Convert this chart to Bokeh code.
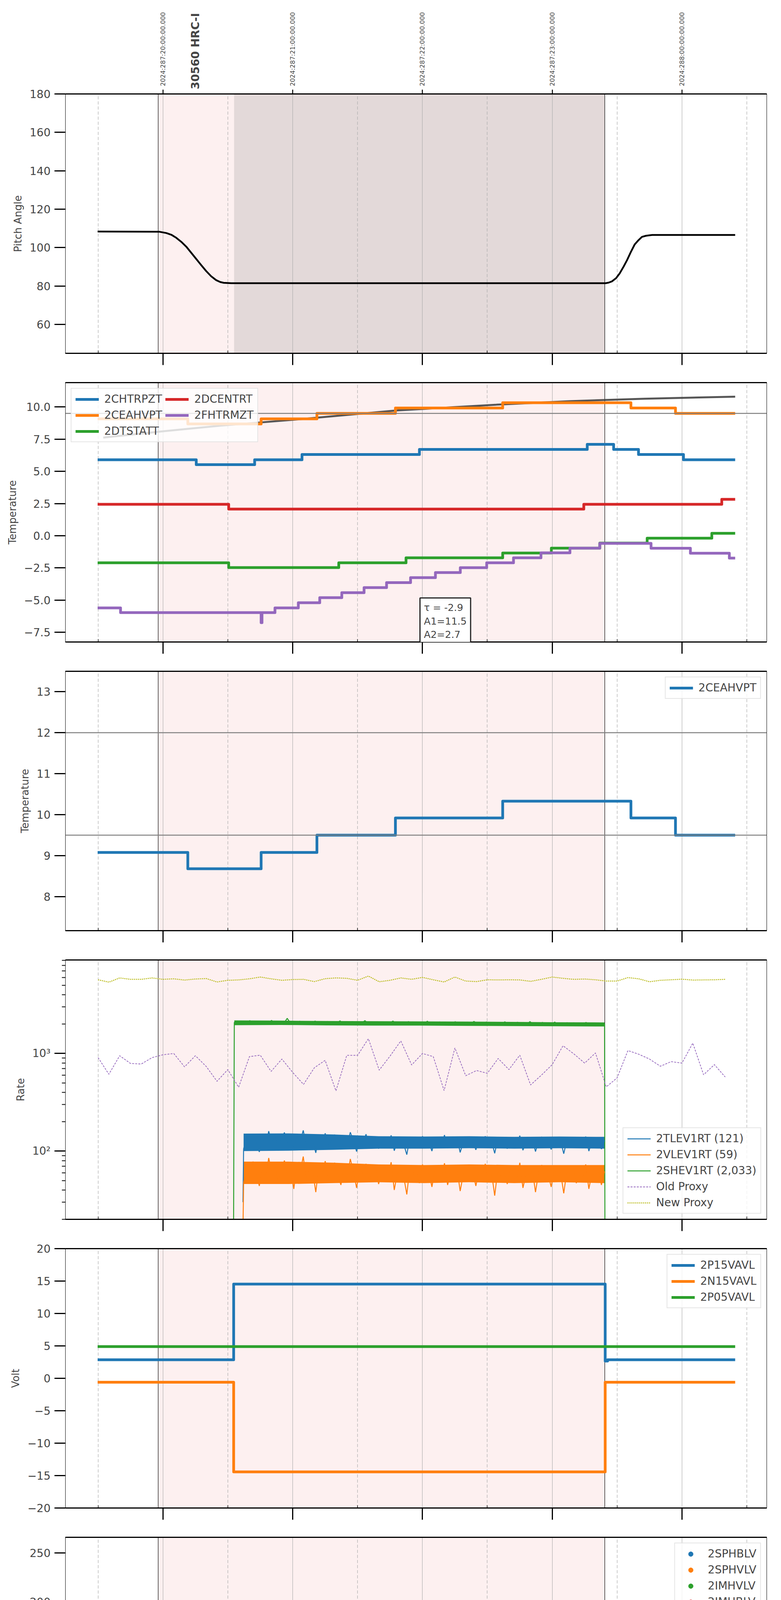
import math
import numpy as np
from bokeh.plotting import figure
from bokeh.layouts import column
from bokeh.models import (Range1d, LinearAxis, FixedTicker, Grid, BoxAnnotation, AllLabels,
                          Span, Legend, LegendItem, Label, CustomLabelingPolicy)
from bokeh.embed import file_html
from bokeh.resources import INLINE

FONT = "DejaVu Sans"
C0, C1, C2, C3, C4, C8 = "#1f77b4", "#ff7f0e", "#2ca02c", "#d62728", "#9467bd", "#bcbd22"

# ---------------- time axis (local time, "HH:MM.m")
hour_ticks = [16, 17, 18, 19, 20]
hour_labels = ["16h", "17h", "18h", "19h", "20h"]
half_ticks = [15.5, 16.5, 17.5, 18.5, 19.5, 20.5]
utc_labels = ["2024:287:20:00:00.000", "2024:287:21:00:00.000", "2024:287:22:00:00.000",
              "2024:287:23:00:00.000", "2024:288:00:00:00.000"]
date_label = "2024-10-13 (287)"
obs_id = "30560 HRC-I"
obs_id_time = "16:15"
view_start, view_end = "15:14.9", "20:39.2"
obs_start, obs_end = "15:57.8", "19:24.3"
dwell_start = "16:32.9"

# ---------------- panel 1: pitch
pitch_t = ["15:29.8", "15:58.2", "16:01.6", "16:03.9", "16:06.2", "16:08.5", "16:10.8", "16:13.1",
           "16:15.4", "16:17.7", "16:20.0", "16:22.3", "16:24.6", "16:26.5", "16:28.1", "16:31.6",
           "19:24.7", "19:26.1", "19:27.7", "19:29.6", "19:31.2", "19:33.0", "19:34.6", "19:36.3",
           "19:38.1", "19:39.9", "19:41.5", "19:43.4", "19:46.2", "20:24.6"]
pitch_v = [108.4, 108.3, 107.6, 106.7, 105.1, 103.0, 100.5, 97.3,
           94.1, 90.9, 87.8, 85.1, 83.1, 82.1, 81.7, 81.5,
           81.5, 81.8, 82.5, 84.2, 86.6, 90.1, 93.5, 97.6,
           101.6, 103.9, 105.6, 106.2, 106.6, 106.6]

# ---------------- panel 2: temperatures (step changes)
chtrpzt_t = ["15:29.8", "16:15.4", "16:42.4", "17:04.3", "17:58.6", "19:16.2", "19:28.4", "19:39.9", "20:00.7", "20:24.6"]
chtrpzt_v = [5.90, 5.52, 5.90, 6.31, 6.70, 7.10, 6.70, 6.31, 5.90, 5.90]
ceahvpt_t = ["15:29.8", "16:11.5", "16:45.4", "17:11.2", "17:47.5", "18:37.1", "19:36.4", "19:57.0", "20:24.6"]
ceahvpt_v = [9.08, 8.68, 9.08, 9.50, 9.92, 10.33, 9.92, 9.50, 9.50]
dtstatt_t = ["15:29.8", "16:30.4", "17:21.3", "17:52.4", "18:37.1", "18:59.6", "19:22.0", "19:43.9", "20:13.8", "20:24.6"]
dtstatt_v = [-2.10, -2.47, -2.10, -1.71, -1.34, -0.96, -0.57, -0.19, 0.19, 0.19]
dcentrt_t = ["15:29.8", "16:30.4", "19:14.6", "20:18.4", "20:24.6"]
dcentrt_v = [2.44, 2.07, 2.44, 2.83, 2.83]
fhtrmzt_t = ["15:29.8", "15:40.4", "16:45.4", "16:45.8", "16:51.8", "17:02.6", "17:12.5", "17:22.7",
             "17:33.0", "17:43.4", "17:54.5", "18:06.0", "18:17.5", "18:29.7", "18:42.1", "18:54.8",
             "19:08.2", "19:22.0", "19:45.7", "20:03.9", "20:21.9", "20:24.6"]
fhtrmzt_v = [-5.60, -5.97, -6.75, -5.97, -5.60, -5.20, -4.81, -4.42,
             -4.03, -3.64, -3.25, -2.86, -2.48, -2.10, -1.71, -1.33,
             -0.96, -0.59, -0.97, -1.36, -1.74, -1.74]
model_t = ["15:32.4", "15:59.3", "16:26.9", "17:01.5", "17:47.5", "18:33.6", "19:08.2", "19:42.7", "20:24.6"]
model_v = [7.62, 8.10, 8.55, 9.02, 9.72, 10.17, 10.45, 10.64, 10.80]
ceahvpt_limits = [9.5, 12.0]
fit_text = "τ = -2.9\nA1=11.5\nA2=2.7"

# ---------------- panel 4: rates
rate_start, rate_end = "16:33.0", "19:24.2"
lev_start = "16:37.3"
shev_v = [2080, 2150, 2010, 2120, 2060, 2170, 1990, 2100, 2140, 2030, 2110, 2070, 2180, 2020, 2090,
          2130, 2050, 2290, 2060, 2110, 2000, 2140, 2080, 2030, 2120, 2060, 2150, 1980, 2090, 2050,
          2130, 2010, 2100, 2070, 2160, 2020, 2080, 2040, 2120, 1990, 2090, 2060, 2170, 2030, 2080,
          2050, 2110, 1980, 2070, 2100, 2040, 2150, 2000, 2090, 2060, 2030, 2120, 1970, 2080, 2050,
          2100, 2010, 2140, 2040, 2070, 1990, 2110, 2030, 2080, 2060, 2000, 2120, 1960, 2070, 2040,
          2090, 2010, 2130, 2030, 2060, 1970, 2100, 2020, 2050, 1990, 2080, 2040, 2110, 1950, 2060,
          2000, 2090, 2030, 2070, 1980, 2120, 2010, 2040, 1960, 2080, 2020, 2050, 1990, 2100, 1960,
          2040, 2010, 2070, 1970, 2060, 1990, 2030, 1950, 2080, 2000, 2040, 1970, 2050, 1990, 2020]
tlev_v = [105, 140, 118, 150, 126, 98, 135, 112, 160, 121, 145, 108, 132, 155, 117, 139, 102, 148,
          125, 163, 113, 137, 128, 96, 143, 119, 152, 110, 131, 147, 122, 104, 138, 116, 156, 127,
          99, 134, 120, 149, 111, 129, 141, 106, 124, 136, 114, 145, 101, 126, 133, 118, 92, 138,
          121, 130, 109, 142, 117, 125, 100, 136, 123, 114, 146, 108, 128, 119, 134, 97, 124, 139,
          112, 127, 103, 131, 120, 142, 110, 126, 95, 133, 117, 129, 106, 137, 121, 113, 144, 102,
          125, 118, 132, 99, 128, 140, 111, 123, 104, 135, 116, 127, 94, 130, 119, 138, 108, 124,
          113, 141, 100, 126, 117, 133, 105, 129]
vlev_v = [48, 66, 55, 78, 61, 44, 70, 52, 85, 59, 73, 47, 64, 80, 56, 68, 41, 75, 60, 88, 50, 67,
          62, 38, 72, 57, 79, 49, 63, 76, 58, 45, 69, 54, 83, 61, 42, 66, 57, 74, 48, 62, 71, 46,
          59, 68, 53, 77, 40, 60, 65, 55, 36, 70, 58, 63, 47, 73, 54, 61, 43, 67, 59, 52, 75, 45,
          62, 56, 66, 39, 58, 71, 50, 61, 44, 64, 57, 74, 48, 60, 35, 65, 55, 63, 46, 69, 58, 51,
          76, 42, 59, 56, 64, 38, 61, 72, 49, 58, 43, 67, 54, 60, 37, 63, 56, 70, 47, 59, 52, 73,
          41, 60, 55, 65, 45, 62]
# dense part of each noisy band (lower / upper edge)
shev_lo = [1950, 1960, 1940, 1930, 1930, 1920, 1910, 1900, 1890]
shev_hi = [2180, 2170, 2150, 2140, 2130, 2120, 2110, 2090, 2080]
tlev_lo = [100, 101, 103, 106, 106, 107, 106, 107, 106]
tlev_hi = [151, 152, 148, 142, 141, 142, 140, 141, 140]
vlev_lo = [46, 46, 47, 48, 47, 48, 47, 48, 47]
vlev_hi = [78, 78, 76, 73, 72, 73, 72, 72, 72]
proxy_start = "15:30"
proxy_step_min = 5
old_proxy = [908, 613, 949, 790, 780, 908, 970, 1000, 730, 949, 737, 519, 684, 451, 929, 961, 655,
             877, 640, 482, 714, 851, 414, 957, 957, 1418, 675, 940, 1346, 763, 1000, 929, 417,
             1140, 592, 669, 627, 889, 684, 961, 476, 600, 769, 1201, 991, 797, 1013, 455, 562,
             1072, 983, 877, 740, 825, 797, 1277, 605, 769, 574]
new_proxy = [5690, 5380, 5944, 5750, 5750, 5944, 5750, 5820, 5650, 5790, 5860, 5400, 5620, 5670,
             5820, 6070, 5820, 5620, 5720, 5750, 5450, 5840, 5944, 5890, 5620, 6210, 5430, 5620,
             5944, 5750, 6020, 5690, 5400, 6070, 5520, 5450, 5690, 5670, 5690, 5670, 5480, 5750,
             6070, 5890, 5750, 5790, 5690, 5520, 5520, 5990, 5820, 5430, 5620, 5690, 5770, 5650,
             5670, 5690, 5750]

# ---------------- panel 5: volts
p15_t = ["15:29.8", "16:32.7", "19:24.5", "19:25.6", "20:24.6"]
p15_v = [2.86, 14.54, 2.66, 2.86, 2.86]
n15_t = ["15:29.8", "16:32.7", "19:24.5", "20:24.6"]
n15_v = [-0.60, -14.43, -0.60, -0.60]
p05_t = ["15:29.8", "20:24.6"]
p05_v = [4.89, 4.89]

# ---------------- panel 6: HV monitor (2SPHBLV / 2SPHVLV have no valid samples)
sphblv_t, sphblv_v = ["16:34.1"], [float("nan")]
sphvlv_t, sphvlv_v = ["16:34.1"], [float("nan")]
imhblv_t = ["16:34.1", "16:34.2", "16:34.5", "16:34.8", "16:35.2", "16:35.7", "16:36.2", "16:36.6", "16:37.1"]
imhblv_v = [126.5, 119.0, 106.0, 104.5, 101.0, 97.0, 93.0, 89.5, 87.0]
imhblv_steady_t = ["16:37.5", "19:24.5"]
imhblv_steady_v = [85.5, 85.5]
imhvlv_t = ["16:34.1", "16:34.8", "16:35.5", "16:36.2", "16:36.8", "16:37.5"]
imhvlv_v = [99.7, 94.5, 90.0, 86.0, 82.0, 79.5]
imhvlv_steady_t = ["16:37.8", "19:24.5"]
imhvlv_steady_v = [78.8, 78.8]

# ---------------- panel 7: detector temps
spinatm_t = ["16:32.7", "16:33.2", "16:42.2", "16:42.6", "19:24.3"]
spinatm_v = [3.57, 4.12, -5.0, 4.12, 4.12]
sphvatm_t = ["16:32.6", "16:32.7", "16:42.2", "16:42.6", "17:51.0", "18:32.9", "18:33.3", "18:36.6", "19:24.3"]
sphvatm_v = [16.45, 17.07, 8.98, 17.07, 17.43, 17.79, 17.43, 17.79, 17.79]
iminatm_t = ["16:33.0", "16:42.2", "16:42.6", "17:34.9", "19:20.8", "19:24.3"]
iminatm_v = [1.71, 4.20, 1.71, 2.18, 2.66, 2.66]
imhvatm_t = ["16:32.5", "16:32.7", "16:43.1", "16:51.1", "16:59.6", "17:08.4", "17:19.9", "17:34.2",
             "17:52.6", "18:16.6", "18:50.2", "19:24.4", "19:24.5", "19:24.6"]
imhvatm_v = [-5.0, 16.37, 16.72, 17.07, 17.43, 17.79, 18.15, 18.50,
             18.86, 19.22, 19.57, 30.0, -5.0, -5.0]

# ---------------- panel 8: FEA temps
fradpyt_t = ["15:29.8", "16:13.1", "16:24.6", "16:35.7", "16:40.3", "16:54.1", "17:05.6", "17:17.2",
             "17:29.1", "17:40.6", "17:52.6", "18:05.5", "18:18.6", "18:31.3", "18:45.6", "19:00.1",
             "19:15.1", "19:49.2", "20:08.5", "20:24.6"]
fradpyt_v = [-8.40, -7.99, -8.40, -8.82, -8.40, -7.99, -7.58, -7.18,
             -6.79, -6.39, -5.98, -5.60, -5.20, -4.81, -4.43, -4.04,
             -3.66, -4.04, -4.43, -4.43]
fepratm_t = ["16:32.6", "16:32.7", "16:35.5", "16:38.0", "16:40.8", "16:44.2", "16:49.5", "16:55.7",
             "17:03.3", "17:11.9", "17:21.5", "17:31.4", "17:42.5", "17:54.0", "18:06.4", "18:19.3",
             "18:32.9", "18:47.0", "19:02.9", "19:18.1", "19:24.3"]
fepratm_v = [-7.08, -6.46, -6.02, -5.62, -5.21, -4.79, -4.37, -3.94,
             -3.53, -3.12, -2.68, -2.27, -1.83, -1.40, -0.97, -0.53,
             -0.08, 0.37, 0.82, 1.27, 1.27]
fe00atm_t = ["16:32.5", "16:32.7", "16:42.3", "16:42.5", "16:42.7", "16:44.2", "16:51.8", "16:57.3",
             "16:57.7", "16:58.0", "17:05.6", "17:06.6", "17:07.0", "17:11.9", "17:19.5", "17:27.3",
             "17:35.6", "17:42.9", "17:47.5", "17:47.9", "17:51.7", "18:00.7", "18:07.4", "18:07.8",
             "18:09.4", "18:19.3", "18:27.9", "18:28.3", "18:38.7", "18:39.1", "18:49.3", "18:59.4",
             "19:04.0", "19:04.4", "19:10.0", "19:21.5", "19:24.4", "19:24.5", "19:24.6"]
fe00atm_v = [-10.0, -7.13, 5.0, -10.0, -7.13, -6.76, -6.42, -6.81,
             -6.42, -6.06, -5.71, -6.10, -5.71, -5.37, -5.00, -4.66,
             -4.32, -3.98, -3.58, -3.98, -3.62, -3.29, -4.03, -3.29,
             -2.95, -2.61, -1.92, -2.28, -2.67, -1.94, -1.62, -1.28,
             -1.65, -1.28, -0.95, -0.61, 5.0, -10.0, -10.0]


def hrs(s):
    hh, mm = s.split(":")
    return int(hh) + float(mm) / 60.0


def H(lst):
    return [hrs(s) for s in lst]


def fmt(v, d):
    return f"{v:.{d}f}".replace("-", "\u2212")


FIG_W = 1975
xr = Range1d(hrs(view_start), hrs(view_end))


def no_labels():
    return CustomLabelingPolicy(code="for (const i of indices) { if (i < 0) yield i }")


def panel(height, yr, ylabel, yticks, decimals=0, top=29, bottom=40, log=False, minor=None,
          labels=None, hour_ticks_out=True):
    p = figure(width=FIG_W, height=height, x_range=xr, y_range=yr,
               y_axis_type="log" if log else "linear",
               output_backend="svg", toolbar_location=None,
               min_border_left=167, min_border_right=12,
               min_border_top=top, min_border_bottom=bottom)
    p.outline_line_color = "black"
    p.outline_line_width = 1
    p.add_layout(BoxAnnotation(left=hrs(obs_start), right=hrs(obs_end), fill_color="#fdf0f0",
                               fill_alpha=1.0, line_color=None, level="image"))
    for t in (obs_start, obs_end):
        p.add_layout(Span(location=hrs(t), dimension="height", line_color="black",
                          line_width=1.2, level="underlay"))
    p.xgrid[0].ticker = FixedTicker(ticks=hour_ticks)
    p.xgrid[0].grid_line_color = "#b0b0b0"
    p.xgrid[0].grid_line_width = 1.2
    p.add_layout(Grid(dimension=0, ticker=FixedTicker(ticks=half_ticks), grid_line_color="#b0b0b0",
                      grid_line_width=1.3, grid_line_dash="8 5"))
    p.ygrid[0].grid_line_color = None

    # bottom axis: half hours (short, inside) as major ticks, full hours (long, outside) as minor
    below = p.below[0]
    below.ticker = FixedTicker(ticks=half_ticks, minor_ticks=hour_ticks if hour_ticks_out else [])
    below.axis_line_width = 3
    below.major_tick_in, below.major_tick_out = 7, 0
    below.major_tick_line_width = 1.5
    below.minor_tick_in, below.minor_tick_out = 0, 30
    below.minor_tick_line_width = 3
    below.major_label_policy = no_labels()

    above = LinearAxis(ticker=FixedTicker(ticks=[]), axis_line_width=3,
                       major_tick_out=0, major_tick_in=0, minor_tick_out=0, minor_tick_in=0)
    p.add_layout(above, "above")

    ay = p.yaxis[0]
    ay.ticker = FixedTicker(ticks=yticks, minor_ticks=minor or [])
    ay.major_label_overrides = labels or {v: fmt(v, decimals) for v in yticks}
    ay.axis_line_width = 1
    ay.major_tick_in, ay.major_tick_out = 0, 28
    ay.major_tick_line_width = 3
    ay.minor_tick_in, ay.minor_tick_out = 0, 9
    ay.minor_tick_line_width = 2
    ay.major_label_text_font = FONT
    ay.major_label_text_font_size = "28px"
    ay.major_label_standoff = 10
    ay.axis_label = ylabel
    ay.axis_label_text_font = FONT
    ay.axis_label_text_font_size = "26px"
    ay.axis_label_text_font_style = "normal"
    ay.axis_label_standoff = 12
    return p, above, below


def add_legend(p, items, loc, ncols=None):
    leg = Legend(items=[LegendItem(label=l, renderers=[r]) for l, r in items], location=loc)
    if ncols:
        leg.ncols = ncols
    leg.label_text_font = FONT
    leg.label_text_font_size = "28px"
    leg.border_line_color = "#cccccc"
    leg.border_line_width = 2
    leg.background_fill_alpha = 0.8
    leg.glyph_width = 60
    leg.glyph_height = 30
    leg.label_standoff = 14
    leg.spacing = 8
    leg.padding = 10
    leg.margin = 14
    p.add_layout(leg)


# ---------------- panel 1
p1, top1, _ = panel(950, Range1d(45, 180), "Pitch Angle", [60, 80, 100, 120, 140, 160, 180], top=240)
p1.add_layout(BoxAnnotation(left=hrs(dwell_start), right=hrs(obs_end), fill_color="#e3d9d9",
                            fill_alpha=1.0, line_color=None, level="image"))
top1.ticker = FixedTicker(ticks=hour_ticks)
top1.major_tick_out = 11
top1.major_tick_line_width = 2.5
top1.major_label_overrides = dict(zip(hour_ticks, utc_labels))
top1.major_label_text_font = FONT
top1.major_label_text_font_size = "16px"
top1.major_label_orientation = math.pi / 2
top1.major_label_standoff = 9
# observation id: a second top axis whose single label sits beside the UTC labels
obs_axis = LinearAxis(ticker=FixedTicker(ticks=[hrs(obs_id_time)], minor_ticks=[]),
                      axis_line_color=None, major_tick_line_color=None, minor_tick_line_color=None,
                      major_label_overrides={hrs(obs_id_time): obs_id},
                      major_label_text_font=FONT, major_label_text_font_size="28px",
                      major_label_text_font_style="bold",
                      major_label_orientation=math.pi / 2, major_label_standoff=-207)
p1.add_layout(obs_axis, "above")
p1.line(H(pitch_t), pitch_v, line_width=4.5, color="black")

# ---------------- panel 2
p2, _, _ = panel(739, Range1d(-8.25, 11.89), "Temperature", [-7.5, -5.0, -2.5, 0.0, 2.5, 5.0, 7.5, 10.0], decimals=1)
p2.add_layout(Span(location=ceahvpt_limits[0], dimension="width", line_color="#808080", line_width=2.5))
p2.line(H(model_t), model_v, line_width=5, color="#444444", alpha=0.9)
r_a = p2.step(H(chtrpzt_t), chtrpzt_v, mode="after", line_width=7, color=C0, line_join="round")
r_b = p2.step(H(ceahvpt_t), ceahvpt_v, mode="after", line_width=7, color=C1, line_join="round")
r_c = p2.step(H(dtstatt_t), dtstatt_v, mode="after", line_width=7, color=C2, line_join="round")
r_d = p2.step(H(dcentrt_t), dcentrt_v, mode="after", line_width=7, color=C3, line_join="round")
r_e = p2.step(H(fhtrmzt_t), fhtrmzt_v, mode="after", line_width=7, color=C4, line_join="round")
add_legend(p2, [("2CHTRPZT", r_a), ("2CEAHVPT", r_b), ("2DTSTATT", r_c),
                ("2DCENTRT", r_d), ("2FHTRMZT", r_e)], "top_left", ncols=2)
p2.add_layout(Label(x=17.981, y=-8.43, text=fit_text, text_font=FONT, text_font_size="25px",
                    text_align="left", text_baseline="bottom", background_fill_color="white",
                    border_line_color="#222222", border_line_width=3, padding=10))

# ---------------- panel 3
p3, _, _ = panel(739, Range1d(7.17, 13.5), "Temperature", [8, 9, 10, 11, 12, 13])
for lim in ceahvpt_limits:
    p3.add_layout(Span(location=lim, dimension="width", line_color="#808080", line_width=2.5))
r3 = p3.step(H(ceahvpt_t), ceahvpt_v, mode="after", line_width=7, color=C0, line_join="round")
add_legend(p3, [("2CEAHVPT", r3)], "top_right")

# ---------------- panel 4
minor_log = [20, 30, 40, 50, 60, 70, 80, 90, 200, 300, 400, 500, 600, 700, 800, 900,
             2000, 3000, 4000, 5000, 6000, 7000, 8000, 9000]
p4, _, _ = panel(739, Range1d(20, 9080), "Rate", [100, 1000], log=True, minor=minor_log,
                 labels={100: "10\u00b2", 1000: "10\u00b3"})
t_band = np.linspace(hrs(rate_start), hrs(rate_end), len(shev_lo))
t_band_lev = np.linspace(hrs(lev_start), hrs(rate_end), len(tlev_lo))
p4.varea(t_band, shev_lo, shev_hi, color=C2)
p4.varea(t_band_lev, tlev_lo, tlev_hi, color=C0)
p4.varea(t_band_lev, vlev_lo, vlev_hi, color=C1)
t_shev = [hrs("16:32.6")] + list(np.linspace(hrs(rate_start), hrs(rate_end), len(shev_v))) + [hrs("19:24.4")]
r_sh = p4.line(t_shev, [8] + shev_v + [8], line_width=2.5, color=C2)
t_lev = [hrs("16:37.0")] + list(np.linspace(hrs(lev_start), hrs(rate_end), len(tlev_v)))
r_tl = p4.line(t_lev, [30] + tlev_v, line_width=2.5, color=C0)
t_vlev = [hrs("16:37.0")] + list(np.linspace(hrs(lev_start), hrs(rate_end), len(vlev_v)))
r_vl = p4.line(t_vlev, [15] + vlev_v, line_width=2.5, color=C1)
t_proxy = hrs(proxy_start) + np.arange(len(old_proxy)) * proxy_step_min / 60.0
r_old = p4.line(t_proxy, old_proxy, line_width=1.8, color=C4, line_dash="5 3")
r_new = p4.line(t_proxy, new_proxy, line_width=2.5, color=C8, line_dash="3 2")
add_legend(p4, [("2TLEV1RT (121)", r_tl), ("2VLEV1RT (59)", r_vl), ("2SHEV1RT (2,033)", r_sh),
                ("Old Proxy", r_old), ("New Proxy", r_new)], "bottom_right")

# ---------------- panel 5
p5, _, _ = panel(739, Range1d(-20, 20), "Volt", [-20, -15, -10, -5, 0, 5, 10, 15, 20])
r5a = p5.step(H(p15_t), p15_v, mode="after", line_width=7, color=C0, line_join="round")
r5b = p5.step(H(n15_t), n15_v, mode="after", line_width=7, color=C1, line_join="round")
r5c = p5.step(H(p05_t), p05_v, mode="after", line_width=7, color=C2, line_join="round")
add_legend(p5, [("2P15VAVL", r5a), ("2N15VAVL", r5b), ("2P05VAVL", r5c)], "top_right")

# ---------------- panel 6
p6, _, _ = panel(739, Range1d(0, 266), "HV Monitor", [0, 50, 100, 150, 200, 250])
r6a = p6.scatter(H(sphblv_t), sphblv_v, size=12, color=C0)
r6b = p6.scatter(H(sphvlv_t), sphvlv_v, size=12, color=C1)
p6.line(H(imhvlv_steady_t), imhvlv_steady_v, line_width=13, color=C2, line_cap="round")
r6c = p6.scatter(H(imhvlv_t), imhvlv_v, size=12, color=C2)
p6.line(H(imhblv_steady_t), imhblv_steady_v, line_width=13, color=C3, line_cap="round")
r6d = p6.scatter(H(imhblv_t), imhblv_v, size=12, color=C3)
add_legend(p6, [("2SPHBLV", r6a), ("2SPHVLV", r6b), ("2IMHVLV", r6c), ("2IMHBLV", r6d)], "top_right")

# ---------------- panel 7
p7, _, _ = panel(739, Range1d(0.21, 20.69), "Detector Temp",
                 [2.5, 5.0, 7.5, 10.0, 12.5, 15.0, 17.5, 20.0], decimals=1)
r7a = p7.step(H(spinatm_t), spinatm_v, mode="after", line_width=7, color=C0, line_join="round")
r7b = p7.step(H(sphvatm_t), sphvatm_v, mode="after", line_width=7, color=C1, line_join="round")
r7c = p7.step(H(iminatm_t), iminatm_v, mode="after", line_width=7, color=C2, line_join="round")
r7d = p7.step(H(imhvatm_t), imhvatm_v, mode="after", line_width=7, color=C3, line_join="round")
add_legend(p7, [("2SPINATM", r7a), ("2SPHVATM", r7b), ("2IMINATM", r7c), ("2IMHVATM", r7d)], "top_right")

# ---------------- panel 8 (carries the time labels)
p8, _, ax8 = panel(803, Range1d(-9.08, 1.39), "FEA Temp", [-8, -6, -4, -2, 0], bottom=104,
                   hour_ticks_out=False)
r8a = p8.step(H(fhtrmzt_t), fhtrmzt_v, mode="after", line_width=7, color=C0, line_join="round")
r8b = p8.step(H(fradpyt_t), fradpyt_v, mode="after", line_width=7, color=C1, line_join="round")
r8c = p8.step(H(fepratm_t), fepratm_v, mode="after", line_width=7, color=C2, line_join="round")
r8d = p8.step(H(fe00atm_t), fe00atm_v, mode="after", line_width=7, color=C3, line_join="round")
add_legend(p8, [("2FHTRMZT", r8a), ("2FRADPYT", r8b), ("2FEPRATM", r8c), ("2FE00ATM", r8d)], "bottom_right")
ax8.major_label_policy = AllLabels()
ax8.major_label_overrides = {h: "30" for h in half_ticks}
ax8.major_label_text_font = FONT
ax8.major_label_text_font_size = "17px"
ax8.major_label_text_color = "black"
ax8.major_label_standoff = 5
# hour ticks reach back up to the frame edge (tick_in) from the second axis row
ax8b = LinearAxis(ticker=FixedTicker(ticks=hour_ticks, minor_ticks=[]), axis_line_color=None,
                  major_tick_in=25, major_tick_out=5, major_tick_line_width=3,
                  major_tick_line_color="black", minor_tick_line_color=None,
                  major_label_overrides=dict(zip(hour_ticks, hour_labels)),
                  major_label_text_font=FONT, major_label_text_font_size="27px",
                  major_label_text_color="black",
                  major_label_standoff=4, axis_label=date_label, axis_label_text_font=FONT,
                  axis_label_text_font_size="27px", axis_label_text_font_style="normal",
                  axis_label_standoff=4)
p8.add_layout(ax8b, "below")

layout = column(p1, p2, p3, p4, p5, p6, p7, p8, spacing=0)
open("out.html", "w").write(file_html(layout, INLINE))
